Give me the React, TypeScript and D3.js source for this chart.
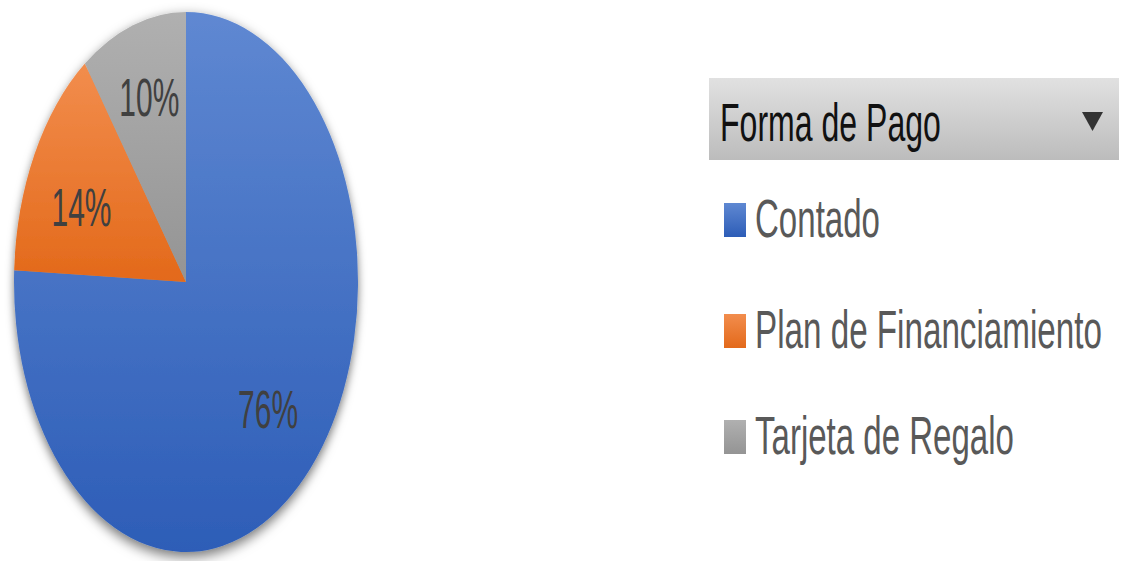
import React, { useLayoutEffect, useRef } from "react";
import * as d3 from "d3";

const categories = ["Contado", "Plan de Financiamiento", "Tarjeta de Regalo"];
const values = [75.7, 14.3, 10.0];
const labels = ["76%", "14%", "10%"];
const legendTitle = "Forma de Pago";

const W = 1121;
const H = 561;
const cx = 186;
const cy = 282;
const rx = 172;
const ry = 270;

const grads = [
  { id: "gBlue", top: "#5f88d2", bottom: "#2d5db7" },
  { id: "gOrange", top: "#f28d4d", bottom: "#e3691a" },
  { id: "gGray", top: "#b0b0b0", bottom: "#949494" },
];

const labelWidths = [60, 60, 60];
const labelNudgeY = [-5, 8, -5];
const legendTextWidths = [125, 347, 259];
const legendRowsY = [220, 331, 437];

export default function App() {
  const ref = useRef<SVGSVGElement>(null);

  useLayoutEffect(() => {
    if (!ref.current) return;
    d3.select(ref.current)
      .selectAll<SVGTextElement, unknown>("text[data-w]")
      .each(function () {
        const target = +(this.getAttribute("data-w") || 0);
        const natural = this.getComputedTextLength();
        if (natural > 0 && target > 0) {
          d3.select(this).attr("transform", `scale(${target / natural},1)`);
        }
      });
  }, []);

  const pie = d3.pie<number>().sort(null).value((d) => d).startAngle(0).endAngle(2 * Math.PI);
  const arcs = pie(values);
  const arc = d3.arc<d3.PieArcDatum<number>>().innerRadius(0).outerRadius(rx);
  const labelArc = d3.arc<d3.PieArcDatum<number>>().innerRadius(rx * 0.69).outerRadius(rx * 0.69);
  const sy = ry / rx;

  return (
    <svg
      ref={ref}
      width={W}
      height={H}
      style={{ position: "absolute", left: 0, top: 0, background: "#fff" }}
      fontFamily="'Liberation Sans', Arial, sans-serif"
    >
      <defs>
        {grads.map((g) => (
          <linearGradient key={g.id} id={g.id} x1="0" y1="0" x2="0" y2="1">
            <stop offset="0%" stopColor={g.top} />
            <stop offset="100%" stopColor={g.bottom} />
          </linearGradient>
        ))}
        <linearGradient id="gHeader" x1="0" y1="0" x2="0" y2="1">
          <stop offset="0%" stopColor="#e1e1e1" />
          <stop offset="100%" stopColor="#bcbcbc" />
        </linearGradient>
        <filter id="shadow" x="-20%" y="-20%" width="140%" height="140%">
          <feDropShadow dx="0" dy="3" stdDeviation="4" floodColor="#000" floodOpacity="0.55" />
        </filter>
      </defs>

      <g transform={`translate(${cx},${cy}) scale(1,${sy})`}>
        <g filter="url(#shadow)">
          {arcs.map((a, i) => (
            <path key={i} d={arc(a) || ""} fill={`url(#${grads[i].id})`} />
          ))}
        </g>
        {arcs.map((a, i) => {
          const [x, y] = labelArc.centroid(a);
          return (
            <g key={i} transform={`translate(${x},${y + labelNudgeY[i]})`}>
              <text
                data-w={labelWidths[i]}
                dy="0.36em"
                textAnchor="middle"
                fontSize={34.5}
                fill="#404040"
              >
                {labels[i]}
              </text>
            </g>
          );
        })}
      </g>

      {/* Legend header */}
      <rect x={709} y={78} width={410} height={82} fill="url(#gHeader)" />
      <g transform="translate(720,141)">
        <text data-w={221} fontSize={54} fill="#111">
          {legendTitle}
        </text>
      </g>
      <path d="M1082,112 L1103,112 L1092.5,131 Z" fill="#333" />

      {/* Legend items */}
      {categories.map((c, i) => (
        <g key={c}>
          <rect
            x={724}
            y={legendRowsY[i] - 17}
            width={22}
            height={34}
            fill={`url(#${grads[i].id})`}
          />
          <g transform={`translate(755,${legendRowsY[i] + 17})`}>
            <text data-w={legendTextWidths[i]} fontSize={53} fill="#595959">
              {c}
            </text>
          </g>
        </g>
      ))}
    </svg>
  );
}
